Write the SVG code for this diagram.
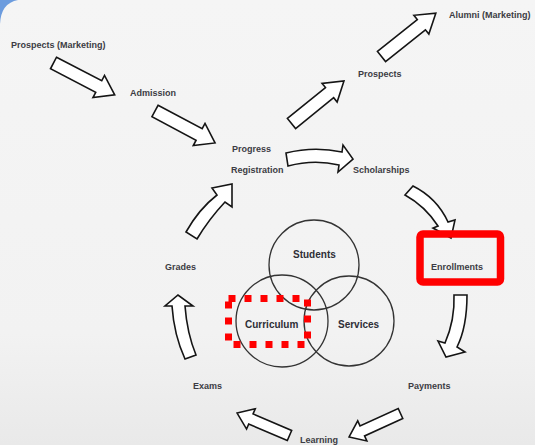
<svg xmlns="http://www.w3.org/2000/svg" width="535" height="445" viewBox="0 0 535 445">
<defs>
<linearGradient id="bg" x1="0" y1="0" x2="0" y2="1">
<stop offset="0" stop-color="#f5f5f5"/>
<stop offset="0.75" stop-color="#f2f2f2"/>
<stop offset="1" stop-color="#e9e9e9"/>
</linearGradient>
<path id="blk" d="M0,-6.5 L-18,-6.5 L-18,-12.5 L0,0 Z"/>
</defs>
<style>
.lbl{font-family:"Liberation Sans",Arial,sans-serif;font-weight:bold;font-size:9px;fill:#3c3c44}
.in{font-size:10px;fill:#2e2e36}
.arr{fill:#ffffff;stroke:#151515;stroke-width:1.6;stroke-linejoin:miter}
.ring{fill:none;stroke:#333333;stroke-width:1.3}
.hl{fill:none;stroke:#ff0000}
</style>
<rect x="0" y="0" width="535" height="445" fill="url(#bg)"/>
<path d="M0,24 Q1,3 18,0 L0,0 Z" fill="#4a86d8" opacity="0.8"/>

<g id="connectors">
<path class="arr" transform="translate(53.5,63) rotate(27.5)" d="M0,-6.5 L51,-6.5 L51,-12.5 L69,0 L51,12.5 L51,6.5 L0,6.5 Z"/>
<path class="arr" transform="translate(155,111) rotate(28)" d="M0,-6.5 L50,-6.5 L50,-12.5 L68,0 L50,12.5 L50,6.5 L0,6.5 Z"/>
<path class="arr" transform="translate(291.5,123.5) rotate(-39)" d="M0,-6.5 L49,-6.5 L49,-12 L67.5,0 L49,12 L49,6.5 L0,6.5 Z"/>
<path class="arr" transform="translate(381.5,56.5) rotate(-38.6)" d="M0,-6.5 L51,-6.5 L51,-12 L69.5,0 L51,12 L51,6.5 L0,6.5 Z"/>
<path class="arr" transform="translate(400.5,413.5) rotate(155.5)" d="M0,-5.5 L42,-5.5 L42,-11 L56.5,0 L42,11 L42,5.5 L0,5.5 Z"/>
<path class="arr" transform="translate(289.5,435.5) rotate(-156.8)" d="M0,-5.5 L42,-5.5 L42,-11 L57,0 L42,11 L42,5.5 L0,5.5 Z"/>
<path class="arr" d="M186,232 Q199,209 217,195 L212,188 L232,184 L232,207 L225,202 Q209,219 197,239 Z"/>
<path class="arr" d="M286,153 Q314,146 342,152 L343,145 L353,159 L338,172 L339,165 Q314,159 288,166 Z"/>
<path class="arr" d="M405,195 Q425,206 438,226 L433,228 L451,238 L455,220 L448,222 Q437,198 413,186 Z"/>
<path class="arr" d="M454,295 L467,295 Q467,327 457,347 L465,352 L446,357 L438,341 L445,343 Q455,320 454,295 Z"/>
<path class="arr" d="M172,306 Q174,335 185,359 L196,355 Q187,333 185,306 L193,306 L178,295 L165,306 Z"/>
</g>

<g id="node-students"><circle class="ring" cx="314" cy="265" r="45"/><text class="lbl in" x="293" y="258">Students</text></g>
<g id="node-curriculum"><circle class="ring" cx="282" cy="321" r="46"/><text class="lbl in" x="245" y="328">Curriculum</text></g>
<g id="node-services"><circle class="ring" cx="349" cy="321" r="45"/><text class="lbl in" x="338" y="328">Services</text></g>

<g id="node-prospects-marketing"><text class="lbl" x="11" y="48">Prospects (Marketing)</text></g>
<g id="node-admission"><text class="lbl" x="130" y="96">Admission</text></g>
<g id="node-progress"><text class="lbl" x="232" y="152">Progress</text></g>
<g id="node-registration"><text class="lbl" x="231" y="173">Registration</text></g>
<g id="node-prospects"><text class="lbl" x="358" y="77">Prospects</text></g>
<g id="node-alumni"><text class="lbl" x="449" y="18">Alumni (Marketing)</text></g>
<g id="node-scholarships"><text class="lbl" x="353" y="173">Scholarships</text></g>
<g id="node-enrollments"><text class="lbl" x="431" y="270">Enrollments</text></g>
<g id="node-payments"><text class="lbl" x="408" y="389">Payments</text></g>
<g id="node-learning"><text class="lbl" x="300" y="443">Learning</text></g>
<g id="node-exams"><text class="lbl" x="193" y="389">Exams</text></g>
<g id="node-grades"><text class="lbl" x="165" y="270">Grades</text></g>

<g id="highlights">
<rect class="hl" x="420" y="234" width="80.5" height="48" rx="3" stroke-width="7.5"/>
<rect class="hl" x="228.5" y="298.5" width="79" height="46" stroke-width="7" stroke-dasharray="7 9"/>
</g>
</svg>
